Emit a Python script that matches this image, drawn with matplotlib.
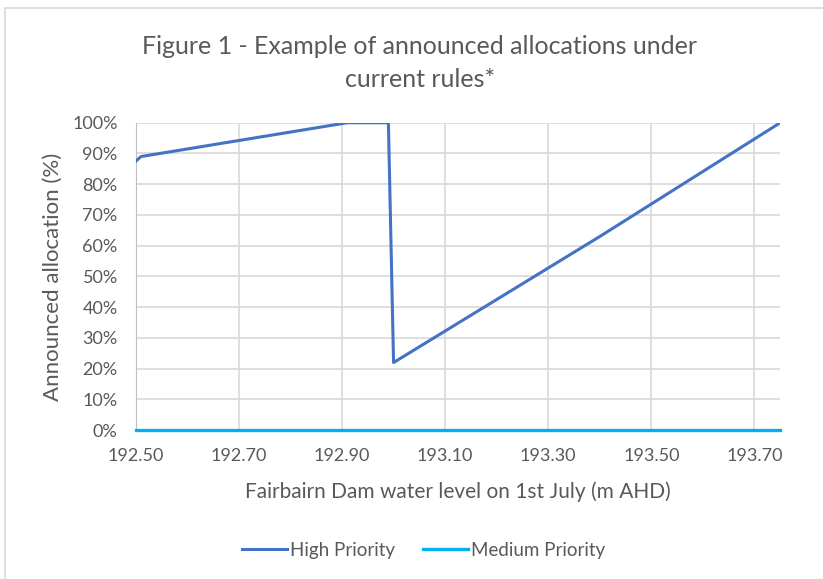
import matplotlib
matplotlib.use('Agg')
import matplotlib.pyplot as plt
from matplotlib.patches import Rectangle
from matplotlib.ticker import FuncFormatter, MultipleLocator

plt.rcParams['font.family'] = ['Lato', 'DejaVu Sans']

# data
high_x = [192.50, 192.51, 192.91, 192.99, 193.00, 193.40, 193.75]
high_y = [87.5, 89, 100, 100, 22, 63, 100]
medium_x = [192.50, 193.75]
medium_y = [0, 0]
x_ticks = [192.50, 192.70, 192.90, 193.10, 193.30, 193.50, 193.70]

text_col = '#595959'
grid_col = '#d9d9d9'

fig = plt.figure(figsize=(8.23, 5.79), dpi=100)
ax = fig.add_axes([0.165, 0.257, 0.783, 0.531])

# chart border like the excel chart area
fig.patches.append(Rectangle((0.006, -0.01), 1.1, 0.996, transform=fig.transFigure,
                             fill=False, edgecolor=grid_col, linewidth=1.2))

ax.plot(high_x, high_y, color='#4472C4', linewidth=2.2, label='High Priority', zorder=3)
ax.plot(medium_x, medium_y, color='#00B0F0', linewidth=2.4, label='Medium Priority',
        zorder=3, clip_on=False)

ax.set_xlim(192.50, 193.75)
ax.set_ylim(0, 100)
ax.set_xticks(x_ticks)
ax.xaxis.set_major_formatter(FuncFormatter(lambda v, p: f'{v:.2f}'))
ax.yaxis.set_major_locator(MultipleLocator(10))
ax.yaxis.set_major_formatter(FuncFormatter(lambda v, p: f'{int(round(v))}%'))
ax.grid(True, color=grid_col, linewidth=1.2)
ax.set_axisbelow(True)
ax.tick_params(length=0, labelsize=13, colors=text_col)
ax.tick_params(axis='x', pad=13)
ax.tick_params(axis='y', pad=13)
for s in ['top', 'right', 'bottom']:
    ax.spines[s].set_visible(False)
ax.spines['left'].set_color('#bfbfbf')

ax.set_xlabel('Fairbairn Dam water level on 1st July (m AHD)', fontsize=15, color=text_col, labelpad=12)
ax.set_ylabel('Announced allocation (%)', fontsize=16, color=text_col, labelpad=7)
fig.suptitle('Figure 1 - Example of announced allocations under\ncurrent rules*',
             x=0.51, y=0.94, fontsize=18, color=text_col, linespacing=1.55)

leg = fig.legend(loc='center', bbox_to_anchor=(0.515, 0.05), ncol=2, frameon=False,
                 fontsize=13.5, handlelength=2.4, handletextpad=0.15, columnspacing=1.5)
for t in leg.get_texts():
    t.set_color(text_col)

fig.savefig('out.png', dpi=100)
